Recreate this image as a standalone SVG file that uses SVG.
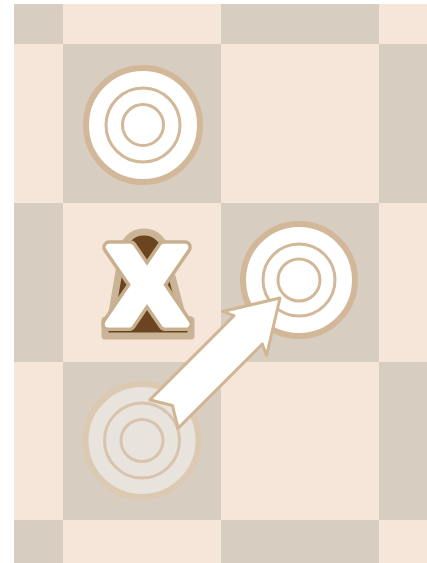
<svg xmlns="http://www.w3.org/2000/svg" width="427" height="563" viewBox="0 0 427 563">
<style>
.d{fill:#d7cdc0}
.l{fill:#f5e6d9}
.ring{fill:none;stroke:#d2b899;stroke-width:3}
.ghost{fill:none;stroke:#d8c4ac;stroke-width:3}
.xg{font-family:"DejaVu Sans",sans-serif;font-weight:bold;font-size:106px;stroke-linejoin:round}
</style>
<rect width="427" height="563" fill="#ffffff"/>
<g id="board">
<rect class="d" x="14" y="4" width="49" height="40"/>
<rect class="l" x="63" y="4" width="158" height="40"/>
<rect class="d" x="221" y="4" width="158" height="40"/>
<rect class="l" x="379" y="4" width="48" height="40"/>
<rect class="l" x="14" y="44" width="49" height="159"/>
<rect class="d" x="63" y="44" width="158" height="159"/>
<rect class="l" x="221" y="44" width="158" height="159"/>
<rect class="d" x="379" y="44" width="48" height="159"/>
<rect class="d" x="14" y="203" width="49" height="159"/>
<rect class="l" x="63" y="203" width="158" height="159"/>
<rect class="d" x="221" y="203" width="158" height="159"/>
<rect class="l" x="379" y="203" width="48" height="159"/>
<rect class="l" x="14" y="362" width="49" height="158"/>
<rect class="d" x="63" y="362" width="158" height="158"/>
<rect class="l" x="221" y="362" width="158" height="158"/>
<rect class="d" x="379" y="362" width="48" height="158"/>
<rect class="d" x="14" y="520" width="49" height="43"/>
<rect class="l" x="63" y="520" width="158" height="43"/>
<rect class="d" x="221" y="520" width="158" height="43"/>
<rect class="l" x="379" y="520" width="48" height="43"/>
</g>
<g id="piece-top">
<circle cx="143" cy="125" r="57" fill="#ffffff" stroke="#d2b899" stroke-width="6"/>
<circle class="ring" cx="143" cy="125" r="37"/>
<circle class="ring" cx="143" cy="125" r="20.5"/>
</g>
<g id="piece-target">
<circle cx="299" cy="280" r="56" fill="#ffffff" stroke="#d2b899" stroke-width="6"/>
<circle class="ring" cx="299" cy="280" r="36"/>
<circle class="ring" cx="299" cy="280" r="21"/>
</g>
<g id="piece-ghost">
<circle cx="142" cy="440.5" r="56.5" fill="#e9e3dd" stroke="#dcc9b2" stroke-width="6"/>
<circle class="ghost" cx="142" cy="440.5" r="37.5"/>
<circle class="ghost" cx="142" cy="440.5" r="21"/>
</g>
<g id="piece-captured">
<path d="M122,254 A22,22 0 0 1 166,254 L183,318 L191,320 L191,336 L105,336 L105,320 L111,318 Z" fill="#6b4520" stroke="#c9b497" stroke-width="7" stroke-linejoin="round"/>
<text class="xg" x="147" y="324" text-anchor="middle" fill="#c8b08f" stroke="#c8b08f" stroke-width="14">X</text>
<text class="xg" x="147" y="324" text-anchor="middle" fill="#ffffff" stroke="#ffffff" stroke-width="7">X</text>
</g>
<g id="connectors">
<path transform="translate(280,298) rotate(-45)" d="M0,0 L-50,-31 Q-47,-24 -45,-20 L-164,-20 Q-157,-8 -152,0 Q-157,8 -164,20 L-45,20 Q-47,24 -50,31 Z" fill="#ffffff" stroke="#d0b694" stroke-width="3" stroke-linejoin="round"/>
</g>
</svg>
